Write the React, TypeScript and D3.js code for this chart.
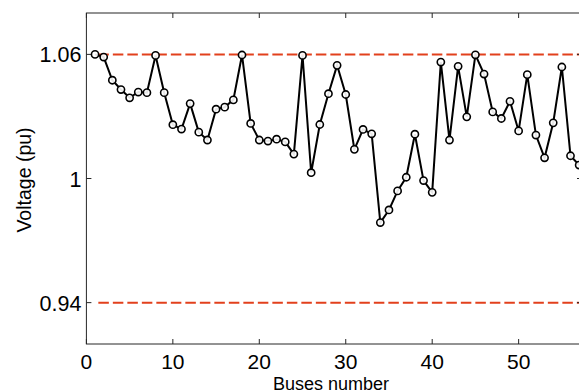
import React from "react";
import * as d3 from "d3";

const buses: number[] = Array.from({ length: 57 }, (_, i) => i + 1);
const voltages: number[] = [
  1.06, 1.0587, 1.0475, 1.043, 1.039, 1.0418, 1.0415, 1.0595, 1.0415, 1.026,
  1.0239, 1.0362, 1.0224, 1.0186, 1.0335, 1.0345, 1.038, 1.0597, 1.0266, 1.0186,
  1.0181, 1.019, 1.0177, 1.0118, 1.0595, 1.0028, 1.0261, 1.041, 1.0547, 1.0406,
  1.0141, 1.0237, 1.0216, 0.9787, 0.9848, 0.994, 1.0006, 1.0214, 0.999, 0.9933,
  1.0563, 1.0186, 1.0542, 1.0298, 1.0598, 1.0505, 1.0322, 1.029, 1.0373, 1.023,
  1.0502, 1.021, 1.01, 1.0269, 1.0539, 1.011, 1.0065,
];
const limits: number[] = [1.06, 0.94];
const xTicks: number[] = [0, 10, 20, 30, 40, 50];
const yTicks: number[] = [0.94, 1, 1.06];
const yTickLabels: string[] = ["0.94", "1", "1.06"];

export default function App() {
  const W = 579;
  const H = 391;
  const left = 86.4;
  const right = 582;
  const top = 13;
  const bottom = 344;
  const x = d3.scaleLinear().domain([0, 57.33]).range([left, right]);
  const y = d3.scaleLinear().domain([0.92, 1.08]).range([bottom, top]);
  const line = d3
    .line<number>()
    .x((_, i) => x(buses[i]))
    .y((d) => y(d));
  const font = "Arial, 'Liberation Sans', Helvetica, sans-serif";
  const tickLen = 5;
  return (
    <svg
      width={W}
      height={H}
      style={{ position: "absolute", left: 0, top: 0, background: "#fff" }}
    >
      <rect x={0} y={0} width={W} height={H} fill="#fff" />
      {/* limit lines */}
      {limits.map((v, i) => (
        <line
          key={"lim" + i}
          x1={x(1)}
          x2={x(57.3)}
          y1={y(v)}
          y2={y(v)}
          stroke="#E2401C"
          strokeWidth={2}
          strokeDasharray="10.5,4"
          strokeDashoffset={-3.3}
        />
      ))}
      {/* axes box */}
      <rect
        x={left}
        y={top}
        width={right - left}
        height={bottom - top}
        fill="none"
        stroke="#262626"
        strokeWidth={1}
      />
      {xTicks.map((t) => (
        <g key={"xt" + t}>
          <line x1={x(t)} x2={x(t)} y1={bottom} y2={bottom - tickLen} stroke="#262626" />
          <line x1={x(t)} x2={x(t)} y1={top} y2={top + tickLen} stroke="#262626" />
          <text
            x={x(t)}
            y={bottom + 24.5}
            textAnchor="middle"
            fontFamily={font}
            fontSize={21}
            fill="#000"
          >
            {t}
          </text>
        </g>
      ))}
      {yTicks.map((t, i) => (
        <g key={"yt" + t}>
          <line x1={left} x2={left + tickLen} y1={y(t)} y2={y(t)} stroke="#262626" />
          <line x1={right} x2={right - tickLen} y1={y(t)} y2={y(t)} stroke="#262626" />
          <text
            x={left - 5}
            y={y(t) + 8}
            textAnchor="end"
            fontFamily={font}
            fontSize={21.5}
            fill="#000"
          >
            {yTickLabels[i]}
          </text>
        </g>
      ))}
      {/* data line */}
      <path d={line(voltages) || ""} fill="none" stroke="#000" strokeWidth={2} />
      {voltages.map((v, i) => (
        <circle
          key={"pt" + i}
          cx={x(buses[i])}
          cy={y(v)}
          r={3.6}
          fill="#fff"
          fillOpacity={0.9}
          stroke="#000"
          strokeWidth={1.6}
        />
      ))}
      <text
        x={331}
        y={390}
        textAnchor="middle"
        fontFamily={font}
        fontSize={18}
        fill="#000"
      >
        Buses number
      </text>
      <text
        transform={`translate(31,180) rotate(-90)`}
        textAnchor="middle"
        fontFamily={font}
        fontSize={19.5}
        fill="#000"
      >
        Voltage (pu)
      </text>
    </svg>
  );
}
